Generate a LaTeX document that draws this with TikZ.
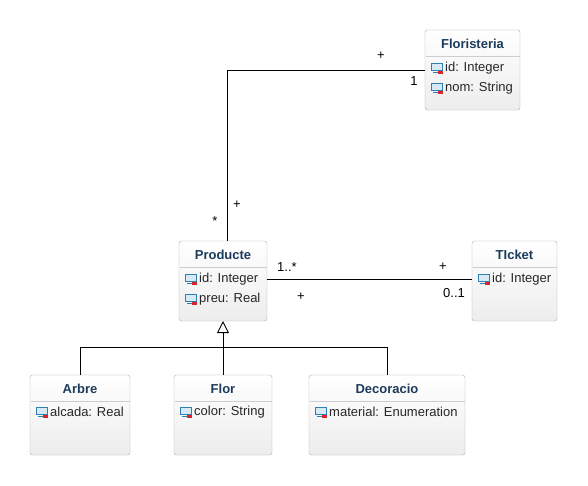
\documentclass[tikz,border=0pt]{standalone}
\usepackage{fontspec}
\setmainfont{Liberation Sans}
\usetikzlibrary{arrows.meta}
\usetikzlibrary{calc}

\definecolor{boxline}{HTML}{AFAFAF}
\definecolor{boxfill}{HTML}{EDEDED}
\definecolor{sepline}{HTML}{CDCDCD}
\definecolor{titleblue}{HTML}{1C3B5C}
\definecolor{iconblue}{HTML}{2F7FB5}
\definecolor{iconfill}{HTML}{D6EAF6}
\definecolor{iconred}{HTML}{D9262C}

\tikzset{
  classbox/.style={draw=boxline, rounded corners=2.5pt, top color=white, bottom color=boxfill,
    anchor=north west, inner sep=0pt, outer sep=0pt, minimum height=80pt},
  classtitle/.style={font=\fontsize{13}{15}\selectfont\bfseries, text=titleblue},
  attrtext/.style={font=\fontsize{13}{15}\selectfont, text=black!85, anchor=west, inner sep=0pt},
  mult/.style={font=\fontsize{13}{15}\selectfont, inner sep=0pt},
  link/.style={line width=0.9pt},
  attricon/.pic={
    \draw[iconblue, fill=iconfill, line width=0.9pt] (-6,-5) rectangle (5,2);
    \draw[iconblue, line width=0.9pt] (-4,4) -- (1,4);
    \fill[iconred] (1,3) rectangle (6,6);
  }
}

\newcommand{\classsep}[1]{\draw[sepline] ($(#1.north west)+(0.5,26)$) -- ($(#1.north east)+(-0.5,26)$);}

\begin{document}
\begin{tikzpicture}[x=1pt,y=-1pt]
  \useasboundingbox[fill=white] (0,0) rectangle (588,485);

  % classes
  \node[classbox, minimum width=95pt] (flo) at (425,30) {};
  \node[classbox, minimum width=88pt] (pro) at (179,241) {};
  \node[classbox, minimum width=85pt] (tic) at (472,241) {};
  \node[classbox, minimum width=100pt] (arb) at (30,375) {};
  \node[classbox, minimum width=98pt] (flr) at (174,375) {};
  \node[classbox, minimum width=156pt] (dec) at (309,375) {};
  \classsep{flo} \classsep{pro} \classsep{tic}
  \classsep{arb} \classsep{flr} \classsep{dec}

  \node[classtitle] (floT) at ($(flo.north)+(0,14)$) {Floristeria};
  \node[classtitle] (proT) at ($(pro.north)+(0,14)$) {Producte};
  \node[classtitle] (ticT) at ($(tic.north)+(0,14)$) {TIcket};
  \node[classtitle] (arbT) at ($(arb.north)+(0,14)$) {Arbre};
  \node[classtitle] (flrT) at ($(flr.north)+(0,14)$) {Flor};
  \node[classtitle] (decT) at ($(dec.north)+(0,14)$) {Decoracio};

  % attributes
  \pic at ($(flo.north west)+(12,38)$) {attricon};
  \node[attrtext] (floA) at ($(flo.north west)+(20,38)$) {id: Integer};
  \pic at ($(flo.north west)+(12,58)$) {attricon};
  \node[attrtext] (floB) at ($(flo.north west)+(20,58)$) {nom: String};
  \pic at ($(pro.north west)+(12,38)$) {attricon};
  \node[attrtext] (proA) at ($(pro.north west)+(20,38)$) {id: Integer};
  \pic at ($(pro.north west)+(12,58)$) {attricon};
  \node[attrtext] (proB) at ($(pro.north west)+(20,58)$) {preu: Real};
  \pic at ($(tic.north west)+(12,38)$) {attricon};
  \node[attrtext] (ticA) at ($(tic.north west)+(20,38)$) {id: Integer};
  \pic at ($(arb.north west)+(12,37)$) {attricon};
  \node[attrtext] (arbA) at ($(arb.north west)+(20,37)$) {alcada: Real};
  \pic at ($(flr.north west)+(12,37)$) {attricon};
  \node[attrtext] (flrA) at ($(flr.north west)+(20,37)$) {color: String};
  \pic at ($(dec.north west)+(12,37)$) {attricon};
  \node[attrtext] (decA) at ($(dec.north west)+(20,37)$) {material: Enumeration};

  % associations
  \draw[link] (flo.west) -| ([xshift=4pt]pro.north);
  \draw[link] ([yshift=2pt]pro.east) -- ([yshift=2pt]tic.west);
  \node[mult] (m1) at (381,56) {+};
  \node[mult] (m2) at (414,81) {1};
  \node[mult] (m3) at (215,221) {*};
  \node[mult] (m4) at (237,205) {+};
  \node[mult] (m5) at (287,267) {1..*};
  \node[mult] (m6) at (301,297) {+};
  \node[mult] (m7) at (443,267) {+};
  \node[mult] (m8) at (454,293) {0..1};

  % generalization
  \coordinate (bus) at ($(pro.south)+(0,26)$);
  \draw[link, -{Triangle[open,length=12pt,width=12pt,line width=0.9pt]}] (bus) -- (pro.south);
  \draw[link] (arb.north) |- (bus);
  \draw[link] (dec.north) |- (bus);
  \draw[link] (flr.north) -- (bus);
\end{tikzpicture}
\end{document}
